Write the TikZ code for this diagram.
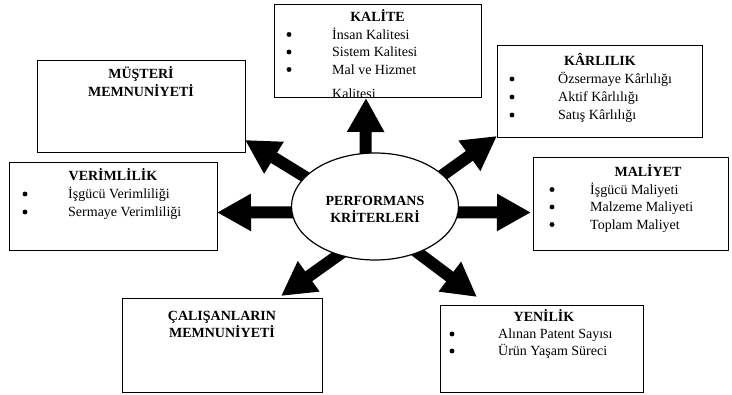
\documentclass[tikz,border=0pt]{standalone}
\usepackage{fontspec}
\setmainfont{Liberation Serif}
\usetikzlibrary{arrows.meta,backgrounds,shapes.geometric}

\tikzset{
  kutu/.style={draw, line width=1.3pt, anchor=north west, inner sep=0pt},
  baslik/.style={font=\fontsize{14}{17}\selectfont\bfseries, anchor=base, inner sep=0pt},
  madde/.style={font=\fontsize{14}{17}\selectfont, anchor=base west, inner sep=0pt},
  kalinok/.style={line width=12pt, -{Triangle[width=35pt,length=34pt]}, shorten <=-12pt},
}

\begin{document}
\begin{tikzpicture}[x=1pt,y=-1pt]
\useasboundingbox (0,0) rectangle (732,395);

% merkez
\node[draw, ellipse, line width=1.2pt, fill=white, minimum width=167pt, minimum height=107pt] (perf) at (375,206.5) {};
\node[baslik] (perf1) at (375,206) {PERFORMANS};
\node[baslik] (perf2) at (375,223) {KRİTERLERİ};

% kalite
\node[kutu, minimum width=207pt, minimum height=93pt] (kalite) at (274,4) {};
\node[baslik] (kaliteB) at (377.5,22) {KALİTE};
\foreach \m [count=\i] in {İnsan Kalitesi, Sistem Kalitesi, Mal ve Hizmet} {
    \filldraw (289,17+17.5*\i) circle (2.2pt);
    \node[madde] (kalite\i) at (332,22+17.5*\i) {\m};
}
\begin{scope}
    \clip (kalite.north west) rectangle ([yshift=0.7pt]kalite.south east);
    \node[madde] (kalite4) at (332,98.5) {Kalitesi};
\end{scope}

% musteri
\node[kutu, minimum width=208pt, minimum height=92pt] (musteri) at (37,60) {};
\node[baslik] (musteriB1) at (141,79) {MÜŞTERİ};
\node[baslik] (musteriB2) at (141,97) {MEMNUNİYETİ};

% karlilik
\node[kutu, minimum width=205pt, minimum height=92pt] (karlilik) at (497,45) {};
\node[baslik] (karlilikB) at (600,66) {KÂRLILIK};
\foreach \m [count=\i] in {Özsermaye Kârlılığı, Aktif Kârlılığı, Satış Kârlılığı} {
    \filldraw (512,61+18*\i) circle (2.2pt);
    \node[madde] (karlilik\i) at (558,66+18*\i) {\m};
}

% verimlilik
\node[kutu, minimum width=208pt, minimum height=88pt] (verim) at (9,162) {};
\node[baslik] (verimB) at (113,181) {VERİMLİLİK};
\foreach \m [count=\i] in {İşgücü Verimliliği, Sermaye Verimliliği} {
    \filldraw (25,176+18*\i) circle (2.2pt);
    \node[madde] (verim\i) at (68,181+18*\i) {\m};
}

% maliyet
\node[kutu, minimum width=195pt, minimum height=93pt] (maliyet) at (533,157) {};
\node[baslik] (maliyetB) at (648,177) {MALİYET};
\foreach \m [count=\i] in {İşgücü Maliyeti, Malzeme Maliyeti, Toplam Maliyet} {
    \filldraw (552,172+17.5*\i) circle (2.2pt);
    \node[madde] (maliyet\i) at (590,177+17.5*\i) {\m};
}

% calisanlar
\node[kutu, minimum width=200pt, minimum height=94pt] (calisan) at (122,298) {};
\node[baslik] (calisanB1) at (222,321) {ÇALIŞANLARIN};
\node[baslik] (calisanB2) at (222,338) {MEMNUNİYETİ};

% yenilik
\node[kutu, minimum width=203pt, minimum height=87pt] (yenilik) at (440,305) {};
\node[baslik] (yenilikB) at (544,322) {YENİLİK};
\foreach \m [count=\i] in {Alınan Patent Sayısı, Ürün Yaşam Süreci} {
    \filldraw (452,317+17*\i) circle (2.2pt);
    \node[madde] (yenilik\i) at (498,322+17*\i) {\m};
}

% oklar
\coordinate (ucU) at (366,98);
\coordinate (ucUL) at (245,140);
\coordinate (ucUR) at (497,136);
\coordinate (ucL) at (217,212.5);
\coordinate (ucR) at (531,212.5);
\coordinate (ucLL) at (281,296);
\coordinate (ucLR) at (477,297);
\begin{scope}[on background layer]
    \draw[kalinok] (perf.100) -- (ucU);
    \draw[kalinok] (perf.157) -- (ucUL);
    \draw[kalinok] (perf.25) -- (ucUR);
    \draw[kalinok] (perf.184) -- (ucL);
    \draw[kalinok] (perf.-4) -- (ucR);
    \draw[kalinok] (perf.233) -- (ucLL);
    \draw[kalinok] (perf.313) -- (ucLR);
\end{scope}
\end{tikzpicture}
\end{document}
